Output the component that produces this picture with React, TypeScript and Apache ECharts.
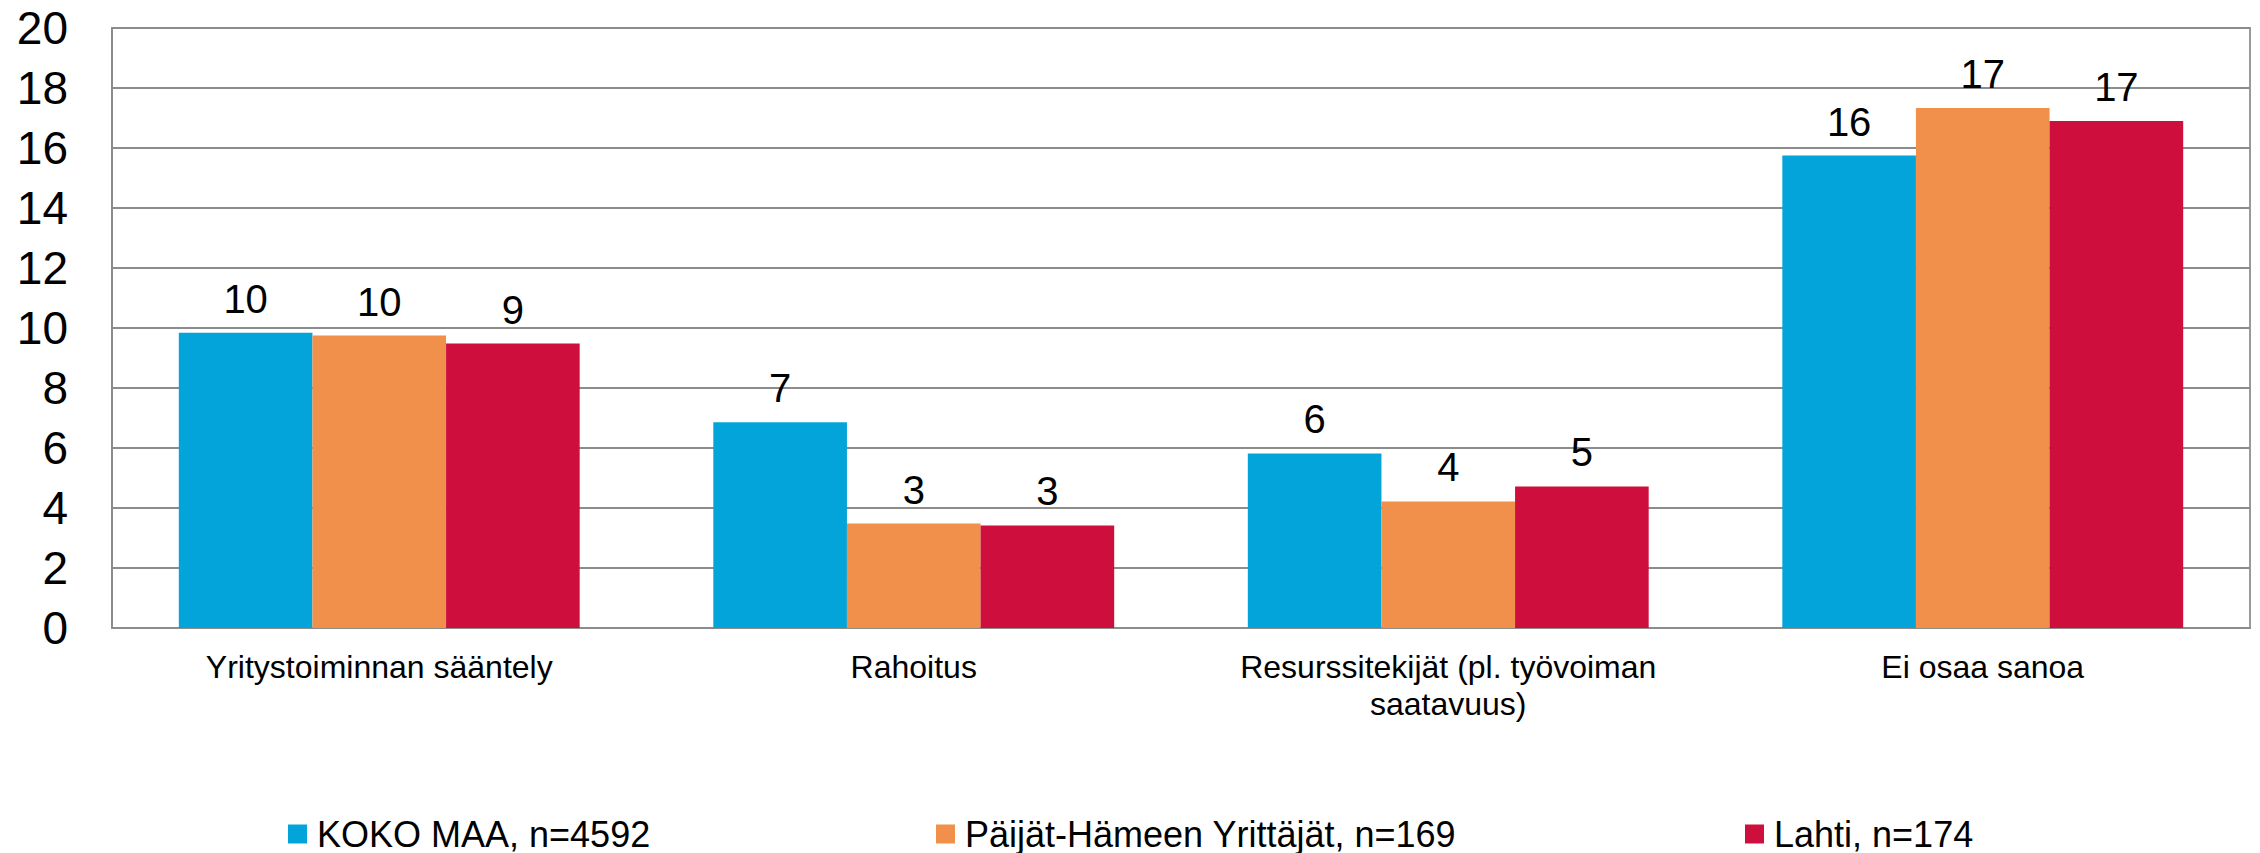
import React, { useEffect, useRef } from "react";
import * as echarts from "echarts";

const categories = [
  "Yritystoiminnan sääntely",
  "Rahoitus",
  "Resurssitekijät (pl. työvoiman\nsaatavuus)",
  "Ei osaa sanoa",
];
const seriesNames = ["KOKO MAA, n=4592", "Päijät-Hämeen Yrittäjät, n=169", "Lahti, n=174"];
const kokoMaa = [9.84, 6.86, 5.82, 15.75];
const paijatHame = [9.75, 3.48, 4.22, 17.33];
const lahti = [9.48, 3.42, 4.72, 16.9];
const colors = ["#02A4D9", "#F0904B", "#CE0F3D"];
const legendLefts = [283, 931, 1740];

const FONT = 'Arial, "Liberation Sans", sans-serif';

export default function App() {
  const ref = useRef<HTMLDivElement>(null);
  useEffect(() => {
    if (!ref.current) return;
    const chart = echarts.init(ref.current, null, { renderer: "svg" });
    const dataSets = [kokoMaa, paijatHame, lahti];
    chart.setOption({
      animation: false,
      textStyle: { fontFamily: FONT },
      grid: {
        left: 112,
        right: 10,
        top: 28,
        bottom: 225,
        show: true,
        borderColor: "#9a9a9a",
        borderWidth: 2,
        containLabel: false,
      },
      legend: seriesNames.map((n, i) => ({
        data: [n],
        left: legendLefts[i],
        top: 809,
        icon: "rect",
        itemWidth: 19,
        itemHeight: 19,
        textStyle: { fontSize: 36, lineHeight: 40, color: "#000", fontFamily: FONT, padding: [0, 0, 0, 5] },
      })),
      xAxis: {
        type: "category",
        data: categories,
        axisTick: { show: false },
        axisLine: { show: true, lineStyle: { color: "#8c8c8c", width: 2 } },
        axisLabel: {
          fontSize: 32,
          lineHeight: 37,
          color: "#000",
          margin: 20,
          interval: 0,
          fontFamily: FONT,
        },
      },
      yAxis: {
        type: "value",
        min: 0,
        max: 20,
        interval: 2,
        axisLine: { show: true, lineStyle: { color: "#8c8c8c", width: 2 } },
        axisTick: { show: false },
        splitLine: { show: true, lineStyle: { color: "#8c8c8c", width: 2 } },
        axisLabel: { fontSize: 46, color: "#000", margin: 44, fontFamily: FONT },
      },
      series: seriesNames.map((n, i) => ({
        name: n,
        type: "bar",
        data: dataSets[i],
        barGap: "0%",
        barCategoryGap: "25%",
        itemStyle: { color: colors[i] },
        label: {
          show: true,
          position: "top",
          distance: 14,
          fontSize: 40,
          color: "#000",
          fontFamily: FONT,
          formatter: (p: any) => String(Math.round(p.value)),
        },
      })),
    });
    return () => chart.dispose();
  }, []);
  return (
    <div
      ref={ref}
      style={{ position: "fixed", left: 0, top: 0, width: 2260, height: 853, background: "#fff" }}
    />
  );
}
